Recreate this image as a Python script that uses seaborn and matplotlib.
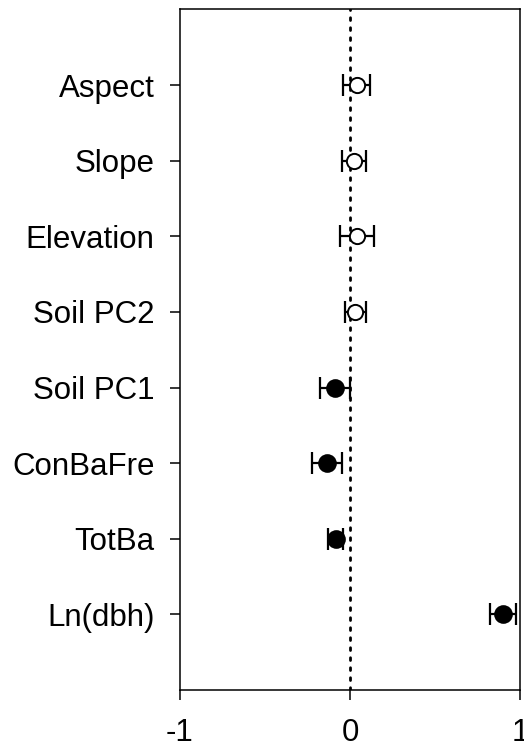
import numpy as np
import pandas as pd
import matplotlib
matplotlib.use("Agg")
import matplotlib.pyplot as plt
import seaborn as sns

predictors = ["Aspect", "Slope", "Elevation", "Soil PC2",
              "Soil PC1", "ConBaFre", "TotBa", "Ln(dbh)"]
estimate = [0.04, 0.025, 0.04, 0.032, -0.088, -0.136, -0.084, 0.90]
ci_half = [0.08, 0.07, 0.10, 0.064, 0.09, 0.086, 0.043, 0.075]
significant = [False, False, False, False, True, True, True, True]

df = pd.DataFrame({"predictor": predictors, "estimate": estimate,
                   "err": ci_half, "sig": significant})
df["pos"] = np.arange(len(df))

sns.set_theme(style="white")
plt.rcParams["font.family"] = ["Liberation Sans", "DejaVu Sans"]

fig = plt.figure(figsize=(5.24, 7.48), dpi=100)
ax = fig.add_axes([0.3435, 0.0775, 0.6489, 0.9098])

# zero reference line
ax.axvline(0, color="black", lw=2, linestyle=(0, (1, 2.6)),
           dash_capstyle="round", zorder=1)

ax.errorbar(df["estimate"], df["pos"], xerr=df["err"], fmt="none",
            ecolor="black", elinewidth=1.6, capsize=8, capthick=1.6, zorder=2)

sns.scatterplot(data=df[df["sig"]], x="estimate", y="pos", ax=ax,
                color="black", edgecolor="black", s=150, linewidth=1.2,
                zorder=3, legend=False)
sns.scatterplot(data=df[~df["sig"]], x="estimate", y="pos", ax=ax,
                color="white", edgecolor="black", s=120, linewidth=1.4,
                zorder=3, legend=False)

ax.set_xlim(-1, 1)
ax.set_ylim(len(df), -1)
ax.set_xticks([-1, 0, 1])
ax.set_xticklabels(["-1", "0", "1"])
ax.set_yticks(df["pos"])
ax.set_yticklabels(df["predictor"])
ax.set_xlabel("")
ax.set_ylabel("")

for s in ax.spines.values():
    s.set_color("black")
    s.set_linewidth(1.1)

ax.tick_params(axis="both", which="major", direction="out", length=7.2,
               width=1.1, color="black", labelsize=22.5, labelcolor="black",
               left=True, bottom=True)
ax.tick_params(axis="y", pad=11)
ax.tick_params(axis="x", pad=13)

fig.savefig("out.png", dpi=100)
